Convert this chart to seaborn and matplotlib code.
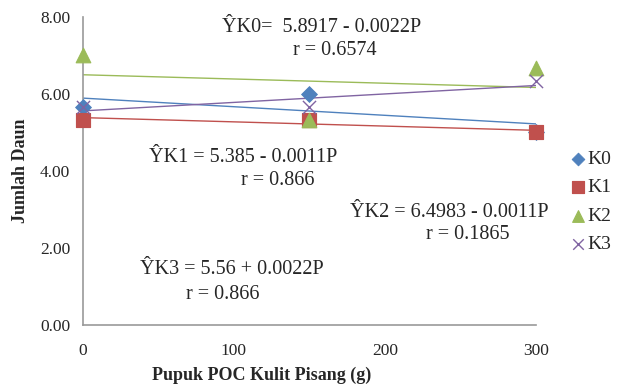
import numpy as np
import pandas as pd
import seaborn as sns
import matplotlib.pyplot as plt

# Data
dosis = [0, 150, 300]
k0 = [5.67, 6.00, 5.00]
k1 = [5.33, 5.33, 5.00]
k2 = [7.00, 5.33, 6.67]
k3 = [5.67, 5.67, 6.33]
series_names = ["K0", "K1", "K2", "K3"]
x_ticks = [0, 100, 200, 300]
y_ticks = [0, 2, 4, 6, 8]

colors = {"K0": "#4F81BD", "K1": "#C0504D", "K2": "#9BBB59", "K3": "#8064A2"}
markers = {"K0": "D", "K1": "s", "K2": "^", "K3": "x"}
sizes = {"K0": 65, "K1": 110, "K2": 110, "K3": 90}

df = pd.DataFrame({
    "dosis": dosis * 4,
    "daun": k0 + k1 + k2 + k3,
    "seri": [s for s in series_names for _ in dosis],
})

sns.set_style("white")
plt.rcParams["font.family"] = ["Liberation Serif", "DejaVu Serif"]

fig = plt.figure(figsize=(6.18, 3.85), dpi=100)
ax = fig.add_axes([0.134, 0.156, 0.733, 0.80])

# trendlines
for s in series_names:
    sub = df[df["seri"] == s]
    sns.regplot(data=sub, x="dosis", y="daun", ax=ax, scatter=False, ci=None,
                truncate=True, color=colors[s], line_kws={"lw": 1.0})

# points
for s in series_names:
    sub = df[df["seri"] == s]
    kw = dict(edgecolor=colors[s]) if markers[s] != "x" else dict(linewidth=1.0)
    sns.scatterplot(data=sub, x="dosis", y="daun", ax=ax, marker=markers[s],
                    color=colors[s], s=sizes[s], label=s, zorder=3, **kw)
for c in ax.collections:
    c.set_clip_on(False)

ax.set_xlim(0, 300)
ax.set_ylim(0, 8)
ax.set_xticks(x_ticks)
ax.set_yticks(y_ticks)
ax.set_yticklabels([f"{v:.2f}" for v in y_ticks])
ax.tick_params(axis="both", direction="out", length=6, color="#999999",
               labelsize=12.5, width=1, pad=3)
ax.tick_params(axis="x", pad=7)
for sp in ["top", "right"]:
    ax.spines[sp].set_visible(False)
for sp in ["left", "bottom"]:
    ax.spines[sp].set_color("#999999")
    ax.spines[sp].set_linewidth(1.2)

ax.set_xlabel("Pupuk POC Kulit Pisang (g)", fontsize=13, fontweight="bold")
ax.xaxis.set_label_coords(0.395, -0.135)
ax.set_ylabel("Jumlah Daun", fontsize=13, fontweight="bold", labelpad=8)

# equations
fs = 14.5
ax.text(92, 7.72, "ŶK0=  5.8917 - 0.0022P", fontsize=fs, va="center", ha="left")
ax.text(167, 7.13, "r = 0.6574", fontsize=fs, va="center", ha="center")
ax.text(44, 4.36, "ŶK1 = 5.385 - 0.0011P", fontsize=fs, va="center", ha="left")
ax.text(129, 3.76, "r = 0.866", fontsize=fs, va="center", ha="center")
ax.text(177, 2.93, "ŶK2 = 6.4983 - 0.0011P", fontsize=fs, va="center", ha="left")
ax.text(255, 2.34, "r = 0.1865", fontsize=fs, va="center", ha="center")
ax.text(38, 1.43, "ŶK3 = 5.56 + 0.0022P", fontsize=fs, va="center", ha="left")
ax.text(93, 0.78, "r = 0.866", fontsize=fs, va="center", ha="center")

leg = ax.legend(loc="center left", bbox_to_anchor=(1.05, 0.40), frameon=False,
                fontsize=14, handletextpad=0.0, labelspacing=0.55,
                handlelength=1.0, borderpad=0, markerscale=0.8)

fig.savefig("out.png", dpi=100)
